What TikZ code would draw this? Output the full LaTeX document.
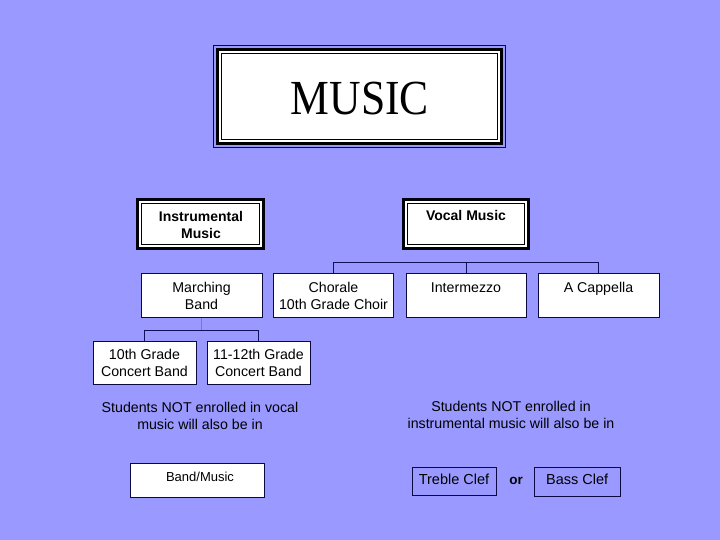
\documentclass[tikz,border=0pt]{standalone}
\usepackage{fontspec}
\setmainfont{Liberation Sans}
\newfontfamily\titlefont{Liberation Serif}
\definecolor{bg}{HTML}{9999FF}
\definecolor{navy}{HTML}{0A0A40}
\definecolor{linec}{HTML}{10105A}
\definecolor{faint}{HTML}{7A7AB8}
\begin{document}
\begin{tikzpicture}[x=1pt,y=-1pt,
  plainbox/.style={draw=navy, line width=0.9pt, fill=white, inner sep=0pt, outer sep=0pt},
  clefbox/.style={draw=navy, line width=0.9pt, inner sep=0pt, outer sep=0pt},
  headbox/.style={draw=black!85!navy, line width=2.6pt, fill=white, inner sep=0pt, outer sep=0pt},
  innerline/.style={draw=black, line width=0.8pt, inner sep=0pt, outer sep=0pt},
  txt/.style={inner sep=0pt, align=center, font=\fontsize{14.2}{17}\selectfont},
  boldtxt/.style={inner sep=0pt, align=center, font=\fontsize{14}{17}\selectfont\bfseries},
  cleftxt/.style={inner sep=0pt, anchor=base, font=\fontsize{14.5}{16}\selectfont},
  conn/.style={draw=linec, line width=1pt}]
\fill[bg] (0,0) rectangle (720,540);
\useasboundingbox (0,0) rectangle (720,540);

% Title frame
\node[draw=navy, line width=1pt, inner sep=0pt, minimum width=292pt, minimum height=102pt] (tframe) at (359.5,96.5) {};
\node[draw=black, line width=3.5pt, fill=white, inner sep=0pt, minimum width=284pt, minimum height=94pt] (tbox) at (359.5,96.5) {};
\node[innerline, minimum width=276pt, minimum height=86pt] (tinner) at (359.5,96.5) {};
\node[inner sep=0pt, anchor=base, font=\titlefont\fontsize{49}{49}\selectfont] (title) at (360,114.5) {\scalebox{0.89}[1]{MUSIC}};

% Head boxes
\node[headbox, minimum width=126pt, minimum height=48.5pt] (instr) at (200.75,224) {};
\node[innerline, minimum width=118pt, minimum height=40.5pt] (instrin) at (200.75,224) {};
\node[boldtxt] (instrtxt) at (201,224.5) {Instrumental\\Music};

\node[headbox, minimum width=125pt, minimum height=48.5pt] (vocal) at (465.75,224) {};
\node[innerline, minimum width=117pt, minimum height=40.5pt] (vocalin) at (465.75,224) {};
\node[boldtxt, anchor=base] (vocaltxt) at (466,221) {Vocal Music};

% Level 2
\node[plainbox, minimum width=121pt, minimum height=44.5pt] (march) at (201.5,295.25) {};
\node[txt] (marchtxt) at (201.5,295.5) {Marching\\Band};
\node[plainbox, minimum width=120pt, minimum height=44.5pt] (chor) at (333.5,295.25) {};
\node[txt] (chortxt) at (333.5,295.5) {Chorale\\10th Grade Choir};
\node[plainbox, minimum width=120pt, minimum height=44.5pt] (inter) at (466,295.25) {};
\node[txt, anchor=base] (intertxt) at (466,292) {Intermezzo};
\node[plainbox, minimum width=121pt, minimum height=44.5pt] (acap) at (598.5,295.25) {};
\node[txt, anchor=base] (acaptxt) at (598.5,292) {A Cappella};

% Level 3
\node[plainbox, minimum width=103pt, minimum height=43.5pt] (tenth) at (144.5,362.75) {};
\node[txt] (tenthtxt) at (144.5,363) {10th Grade\\Concert Band};
\node[plainbox, minimum width=103pt, minimum height=43.5pt] (eleven) at (258.5,362.75) {};
\node[txt] (eleventxt) at (258.5,363) {11-12th Grade\\Concert Band};

% Connectors
\coordinate (vbar) at (0,262);
\draw[conn] (chor.north) -- (chor.north |- vbar) -| (acap.north);
\draw[conn] (inter.north) -- (inter.north |- vbar);
\coordinate (mbar) at (0,330);
\draw[draw=faint, line width=1pt] (march.south) -- (march.south |- mbar);
\draw[conn] (tenth.north) -- (tenth.north |- mbar) -| (eleven.north);

% Bottom notes
\node[txt] (lnote) at (200,415.5) {Students NOT enrolled in vocal\\music will also be in};
\node[txt] (rnote) at (511,414.5) {Students NOT enrolled in\\instrumental music will also be in};

\node[plainbox, minimum width=133.5pt, minimum height=34.5pt] (band) at (197.25,480.25) {};
\node[inner sep=0pt, anchor=base, font=\fontsize{13}{15}\selectfont] (bandtxt) at (200,481) {Band/Music};

\node[clefbox, minimum width=84pt, minimum height=28pt] (treble) at (454,481) {};
\node[cleftxt] (trebletxt) at (454,484) {Treble Clef};
\node[inner sep=0pt, anchor=base, font=\fontsize{13.5}{15}\selectfont\bfseries] (ortxt) at (516,484) {or};
\node[clefbox, minimum width=85.5pt, minimum height=29pt] (bass) at (577.25,481.5) {};
\node[cleftxt] (basstxt) at (577.25,484) {Bass Clef};
\end{tikzpicture}
\end{document}
